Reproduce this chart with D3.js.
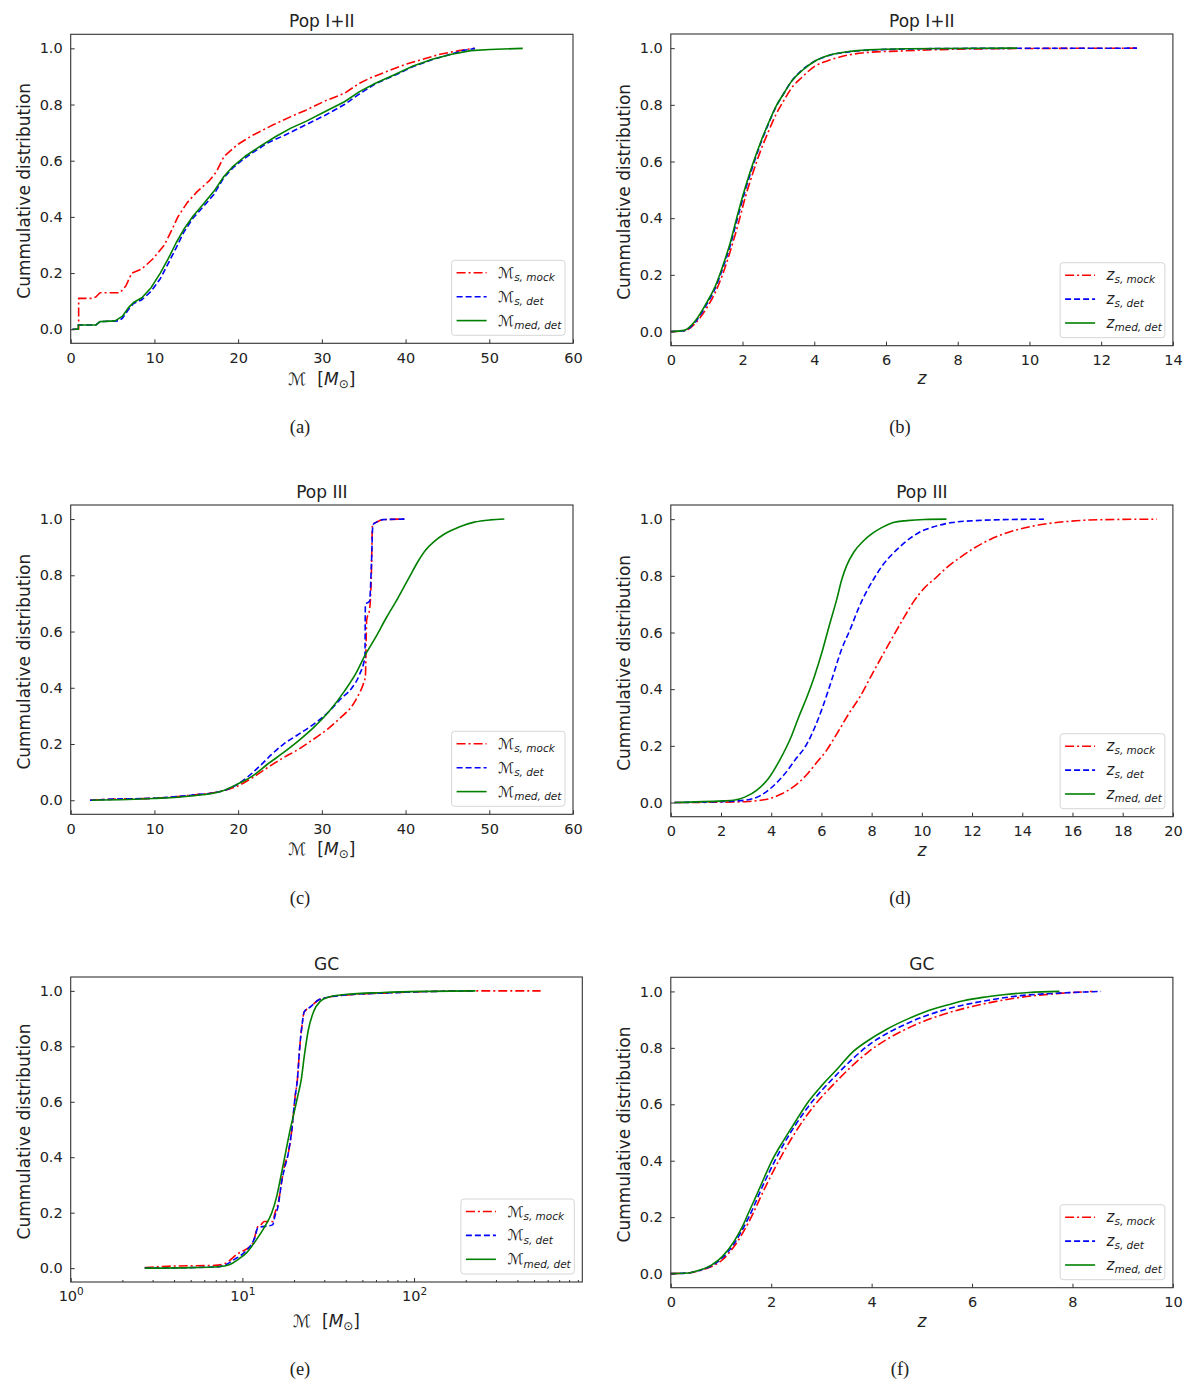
<!DOCTYPE html>
<html>
<head>
<meta charset="utf-8">
<script src="https://cdn.jsdelivr.net/npm/d3@7"></script>
<style>
body{margin:0;background:#fff;}
text{font-family:"DejaVu Sans",sans-serif;fill:#222;}
.cap{font-family:"Liberation Serif",serif;}
</style>
</head>
<body>
<svg id="fig" width="1200" height="1385"></svg>
<script>
// ---- data: [x, cumulative fraction] ----
// (a) Pop I+II, chirp mass
var aMock = [[0.45,0],[0.95,0],[0.95,0.11],[2.5,0.11],[3.0,0.115],[3.5,0.13],[5.9,0.13],[6.6,0.155],[7.3,0.2],[8.5,0.215],[9.8,0.25],[11.2,0.30],[12.1,0.355],[12.8,0.40],[13.9,0.45],[15.1,0.49],[16.5,0.527],[17.4,0.56],[18.3,0.615],[19.9,0.657],[21.7,0.69],[24,0.725],[26.3,0.757],[28.1,0.78],[30.4,0.813],[32.7,0.84],[34.5,0.876],[35.9,0.896],[37.7,0.917],[40,0.943],[41.8,0.959],[44.1,0.979],[46.4,0.992],[48.2,1.0]];
var aDet = [[0.2,0],[0.9,0],[0.9,0.015],[3.0,0.015],[3.5,0.027],[5.8,0.03],[6.2,0.04],[6.9,0.07],[7.5,0.092],[8.5,0.105],[9.6,0.135],[10.7,0.18],[11.7,0.237],[12.6,0.29],[13.5,0.345],[14.6,0.395],[15.8,0.435],[17.1,0.48],[18.3,0.54],[19.4,0.575],[20.3,0.598],[21.7,0.628],[23.5,0.663],[25.5,0.69],[28.1,0.728],[30.4,0.762],[32.7,0.80],[34.5,0.838],[36.4,0.874],[38.6,0.903],[40.9,0.935],[43.2,0.96],[45.5,0.98],[47,0.993],[48.3,1.0]];
var aMed = [[0.2,0],[0.9,0],[0.9,0.015],[3.0,0.015],[3.5,0.027],[5.3,0.03],[6.2,0.047],[6.9,0.077],[7.5,0.095],[8.5,0.112],[9.6,0.148],[10.7,0.2],[11.7,0.254],[12.6,0.308],[13.5,0.355],[14.6,0.402],[15.8,0.444],[17.1,0.491],[18.3,0.544],[19.4,0.58],[20.8,0.615],[22.6,0.651],[24.5,0.686],[26.3,0.716],[28.1,0.74],[30.4,0.775],[32.7,0.81],[34.5,0.846],[36.4,0.876],[38.6,0.905],[40.9,0.937],[43.2,0.961],[45.5,0.979],[47.8,0.992],[50.1,0.996],[54,1.0]];
// (b) Pop I+II, redshift
var bMock = [[0,0],[0.37,0.002],[0.69,0.03],[1.01,0.085],[1.23,0.135],[1.44,0.2],[1.65,0.28],[1.87,0.375],[2.08,0.475],[2.29,0.56],[2.51,0.64],[2.72,0.705],[2.93,0.765],[3.15,0.815],[3.36,0.858],[3.68,0.9],[4.0,0.935],[4.43,0.958],[4.96,0.976],[5.5,0.985],[6.4,0.99],[7.5,0.995],[9,0.998],[13.0,1.0]];
var bDet = [[0,0],[0.37,0.003],[0.69,0.035],[1.01,0.098],[1.23,0.15],[1.44,0.22],[1.65,0.30],[1.87,0.405],[2.08,0.50],[2.29,0.585],[2.51,0.665],[2.72,0.732],[2.93,0.792],[3.15,0.84],[3.36,0.882],[3.68,0.925],[4.0,0.953],[4.43,0.975],[4.96,0.987],[5.5,0.993],[6.56,0.997],[8,0.999],[13.0,1.0]];
var bMed = [[0,0],[0.37,0.004],[0.69,0.039],[1.01,0.104],[1.23,0.157],[1.44,0.228],[1.65,0.31],[1.87,0.416],[2.08,0.51],[2.29,0.593],[2.51,0.67],[2.72,0.735],[2.93,0.794],[3.15,0.84],[3.36,0.882],[3.68,0.923],[4.0,0.953],[4.43,0.976],[4.96,0.988],[5.5,0.994],[6.56,0.998],[9.66,1.0]];
// (c) Pop III, chirp mass
var cMock = [[2.3,0],[5.3,0.004],[9.8,0.007],[14.4,0.018],[18.1,0.033],[19.9,0.05],[21.7,0.08],[23.5,0.116],[25.4,0.151],[27.2,0.181],[29,0.217],[30.9,0.258],[32.2,0.293],[33.6,0.335],[34.3,0.37],[35.0,0.418],[35.2,0.44],[35.3,0.58],[35.35,0.64],[35.7,0.678],[35.9,0.785],[36.05,0.98],[36.6,0.99],[37.3,0.998],[40,1.0]];
var cDet = [[2.3,0],[5.3,0.004],[9.8,0.007],[14.4,0.018],[18.1,0.033],[19.5,0.05],[20.8,0.075],[22.6,0.122],[24,0.163],[25.4,0.199],[27.2,0.234],[29,0.27],[30.9,0.317],[32.2,0.359],[33.6,0.40],[34.5,0.447],[35.15,0.512],[35.2,0.696],[35.7,0.708],[35.9,0.82],[36.1,0.98],[36.6,0.99],[37.3,0.998],[40,1.0]];
var cMed = [[2.5,0],[9.8,0.006],[14.4,0.015],[18.1,0.033],[19.9,0.057],[21.7,0.086],[23.5,0.128],[25.4,0.169],[27.2,0.211],[29,0.258],[30.9,0.317],[32.7,0.388],[34.1,0.453],[35.2,0.518],[36.4,0.578],[37.7,0.649],[39.1,0.72],[40.5,0.796],[41.5,0.85],[42.4,0.89],[43.4,0.92],[44.6,0.946],[46.4,0.972],[48.2,0.989],[50.1,0.997],[51.8,1.0]];
// (d) Pop III, redshift
var dMock = [[0.15,0],[1.75,0.001],[2.97,0.003],[3.58,0.008],[3.95,0.014],[4.4,0.03],[4.88,0.055],[5.41,0.098],[5.8,0.14],[6.21,0.185],[6.63,0.245],[7.1,0.315],[7.54,0.374],[8.0,0.45],[8.46,0.524],[8.86,0.587],[9.3,0.655],[9.68,0.71],[10.1,0.757],[10.59,0.796],[11.0,0.83],[11.51,0.864],[12.12,0.9],[12.88,0.935],[13.64,0.959],[14.7,0.98],[15.8,0.992],[17,0.998],[19.36,1.0]];
var dDet = [[0.15,0],[2.5,0.005],[3.28,0.014],[3.89,0.044],[4.5,0.097],[4.95,0.15],[5.41,0.205],[5.72,0.262],[6.02,0.33],[6.41,0.433],[6.8,0.54],[7.14,0.61],[7.5,0.69],[7.8,0.745],[8.07,0.787],[8.46,0.84],[8.86,0.88],[9.22,0.91],[9.65,0.94],[10.0,0.958],[10.44,0.972],[11.2,0.988],[12.4,0.996],[13.6,0.999],[14.86,1.0]];
var dMed = [[0.15,0],[2.06,0.006],[2.5,0.008],[2.97,0.02],[3.43,0.044],[3.89,0.085],[4.34,0.15],[4.8,0.233],[5.1,0.303],[5.41,0.37],[5.72,0.445],[6.02,0.53],[6.33,0.63],[6.61,0.717],[6.81,0.787],[7.0,0.835],[7.3,0.885],[7.67,0.923],[8.0,0.948],[8.4,0.97],[8.86,0.988],[9.4,0.995],[10.1,0.999],[10.98,1.0]];
// (e) GC, chirp mass (log axis)
var eMock = [[2.7,0.002],[3.7,0.007],[6.9,0.01],[8.0,0.018],[9.2,0.048],[11.5,0.09],[12.3,0.15],[12.9,0.158],[13.4,0.168],[15.0,0.168],[15.5,0.2],[16.1,0.23],[17.0,0.318],[17.6,0.37],[18.5,0.414],[19.4,0.498],[20.3,0.62],[20.9,0.678],[21.6,0.8],[22.3,0.88],[22.9,0.924],[24.9,0.942],[27.6,0.966],[32.2,0.978],[43.9,0.987],[66.2,0.992],[111,0.997],[228,1.0],[546,1.0]];
var eDet = [[2.7,0],[6.9,0.004],[8.0,0.012],[8.9,0.03],[10.4,0.06],[11.8,0.11],[12.3,0.145],[15.0,0.156],[15.5,0.19],[16.1,0.22],[17.0,0.318],[17.6,0.36],[18.5,0.414],[19.4,0.498],[20.3,0.62],[20.9,0.678],[21.6,0.8],[22.3,0.88],[22.9,0.924],[24.9,0.942],[27.6,0.966],[32.2,0.978],[43.9,0.987],[66.2,0.992],[111,0.997],[228,1.0]];
var eMed = [[2.7,0],[5.06,0.002],[7.25,0.005],[8.46,0.013],[9.38,0.03],[10.6,0.056],[12.0,0.1],[13.5,0.15],[14.8,0.198],[15.8,0.255],[16.6,0.318],[18.0,0.428],[18.96,0.498],[20.0,0.56],[21.0,0.62],[22.0,0.678],[23.0,0.77],[24.2,0.858],[26.0,0.925],[28.4,0.962],[32,0.978],[39.6,0.987],[66.2,0.994],[111,0.998],[228,1.0]];
// (f) GC, redshift
var fMock = [[0,0],[0.34,0.002],[0.57,0.01],[0.8,0.024],[1.03,0.049],[1.26,0.096],[1.56,0.185],[1.87,0.302],[2.25,0.432],[2.71,0.561],[3.32,0.685],[3.93,0.785],[4.69,0.867],[5.45,0.92],[6.21,0.955],[6.97,0.979],[7.74,0.993],[8.4,1.0]];
var fDet = [[0,0],[0.34,0.002],[0.57,0.011],[0.8,0.027],[1.03,0.056],[1.26,0.106],[1.56,0.202],[1.87,0.326],[2.25,0.459],[2.71,0.585],[3.32,0.708],[3.93,0.808],[4.69,0.885],[5.45,0.935],[6.21,0.965],[6.97,0.985],[7.74,0.994],[8.57,1.0]];
var fMed = [[0,0],[0.34,0.002],[0.57,0.012],[0.8,0.029],[1.03,0.061],[1.26,0.114],[1.41,0.161],[1.56,0.22],[1.71,0.279],[1.87,0.344],[2.02,0.402],[2.25,0.473],[2.48,0.538],[2.71,0.602],[3.01,0.667],[3.32,0.726],[3.62,0.785],[3.93,0.826],[4.31,0.867],[4.69,0.9],[5.07,0.928],[5.45,0.949],[5.83,0.967],[6.21,0.979],[6.67,0.989],[7.13,0.996],[7.74,1.0]];

// ---- ticks and labels ----
var yTicks = [0, 0.2, 0.4, 0.6, 0.8, 1.0];
var massTicks = [0, 10, 20, 30, 40, 50, 60];
var zTicksB = [0, 2, 4, 6, 8, 10, 12, 14];
var zTicksD = [0, 2, 4, 6, 8, 10, 12, 14, 16, 18, 20];
var zTicksF = [0, 2, 4, 6, 8, 10];
var logTicks = [1, 10, 100];
var logMinor = [2,3,4,5,6,7,8,9,20,30,40,50,60,70,80,90,200,300,400,500,600,700,800,900];
var titles = ["Pop I+II", "Pop I+II", "Pop III", "Pop III", "GC", "GC"];
var captions = ["(a)", "(b)", "(c)", "(d)", "(e)", "(f)"];
var subs = ["s, mock", "s, det", "med, det"];
var yLabel = "Cummulative distribution";

var colors = ["#ff0000", "#0000ff", "#008000"];
var dashes = ["9,3,2,3", "6,3", null];

var panels = [
  {l:70.7, r:573, t:34.3, b:343.3, dom:[0,60], ticks:massTicks, kind:"M", xl:380, cy:427, cx:300, data:[aMock,aDet,aMed]},
  {l:670.8, r:1172.9, t:34, b:345.7, dom:[0,14], ticks:zTicksB, kind:"z", xl:380, cy:427, cx:900, data:[bMock,bDet,bMed]},
  {l:70.7, r:573, t:505, b:814.3, dom:[0,60], ticks:massTicks, kind:"M", xl:850, cy:898, cx:300, data:[cMock,cDet,cMed]},
  {l:670.8, r:1172.9, t:505, b:816.7, dom:[0,20], ticks:zTicksD, kind:"z", xl:851.7, cy:898, cx:900, data:[dMock,dDet,dMed]},
  {l:70.7, r:582.3, t:977, b:1282, dom:[1,955], log:true, ticks:logTicks, kind:"M", xl:1321.7, cy:1369, cx:300, data:[eMock,eDet,eMed]},
  {l:670.8, r:1172.9, t:977.3, b:1287.7, dom:[0,10], ticks:zTicksF, kind:"z", xl:1323, cy:1369, cx:900, data:[fMock,fDet,fMed]}
];

var svg = d3.select("#fig");

// symbol + subscript, like mathtext
var symbolText = function(sel, kind, sub, size, subSize){
  var t = sel.append("text").style("font-size", size + "px");
  if (kind == "M") {
    t.append("tspan").text("\u2133");
  } else {
    t.append("tspan").style("font-style", "italic").text("z");
  }
  t.append("tspan").style("font-style", "italic").style("font-size", subSize + "px")
    .attr("dy", size * 0.22).text(sub);
  return t;
};

var drawPanel = function(p, i){
  var g = svg.append("g");
  var x = p.log ? d3.scaleLog().domain(p.dom).range([p.l, p.r])
                : d3.scaleLinear().domain(p.dom).range([p.l, p.r]);
  var y = d3.scaleLinear().domain([-0.05, 1.05]).range([p.b, p.t]);

  // curves
  for (var k=0; k<3; k++){
    var pts = p.data[k];
    var strict = true;
    for (var j=1;j<pts.length;j++){ if (pts[j][0] <= pts[j-1][0]) strict = false; }
    var line = d3.line()
      .x(function(d){ return x(d[0]); })
      .y(function(d){ return y(d[1]); })
      .curve(strict ? d3.curveMonotoneX : d3.curveLinear);
    g.append("path").datum(pts)
      .attr("d", line)
      .attr("fill", "none")
      .attr("stroke", colors[k])
      .attr("stroke-width", 1.6)
      .attr("stroke-dasharray", dashes[k])
      .attr("stroke-linejoin", "round");
  }

  // axes, ticks pointing in
  var xa = d3.axisBottom(x).tickValues(p.ticks).tickSizeInner(-4).tickSizeOuter(0).tickPadding(9);
  if (!p.log) xa.tickFormat(d3.format("d"));
  else xa.tickFormat(function(){ return ""; });
  var gx = g.append("g").attr("transform", "translate(0," + p.b + ")").call(xa);
  gx.select(".domain").remove();
  gx.selectAll("line").attr("stroke", "#333");
  gx.selectAll("text").style("font-size", "14.5px").attr("fill", "#222").style("font-family", "DejaVu Sans");
  if (p.log) {
    gx.selectAll(".tick text").each(function(d){
      var t = d3.select(this);
      t.append("tspan").text("10");
      t.append("tspan").style("font-size", "10.5px").attr("dy", -6).text(Math.round(Math.log10(d)));
    });
    var gm = g.append("g").attr("transform", "translate(0," + p.b + ")")
      .call(d3.axisBottom(x).tickValues(logMinor).tickSizeInner(-2).tickSizeOuter(0).tickFormat(function(){ return ""; }));
    gm.select(".domain").remove();
    gm.selectAll("line").attr("stroke", "#333");
  }

  var ya = d3.axisLeft(y).tickValues(yTicks).tickSizeInner(-4).tickSizeOuter(0).tickPadding(8).tickFormat(d3.format(".1f"));
  var gy = g.append("g").attr("transform", "translate(" + p.l + ",0)").call(ya);
  gy.select(".domain").remove();
  gy.selectAll("line").attr("stroke", "#333");
  gy.selectAll("text").style("font-size", "14.5px").attr("fill", "#222").style("font-family", "DejaVu Sans");

  // frame
  g.append("rect").attr("x", p.l).attr("y", p.t).attr("width", p.r - p.l).attr("height", p.b - p.t)
    .attr("fill", "none").attr("stroke", "#333").attr("stroke-width", 1.1);

  // title
  g.append("text").attr("x", (p.l + p.r) / 2).attr("y", p.t - 7.5)
    .attr("text-anchor", "middle").style("font-size", "17px").text(titles[i]);

  // y label
  g.append("text")
    .attr("transform", "translate(" + (p.l - 47) + "," + ((p.t + p.b) / 2 + 2) + ") rotate(-90)")
    .attr("text-anchor", "middle").attr("dy", "0.36em")
    .style("font-size", "17px").text(yLabel);

  // x label
  var xl = g.append("text").attr("x", (p.l + p.r) / 2).attr("y", p.xl + 5)
    .attr("text-anchor", "middle").style("font-size", "17px").style("white-space", "pre");
  if (p.kind == "M") {
    xl.append("tspan").text("\u2133  [");
    xl.append("tspan").style("font-style", "italic").text("M");
    xl.append("tspan").style("font-size", "12px").attr("dy", 3).text("\u2299");
    xl.append("tspan").attr("dy", -3).text("]");
  } else {
    xl.attr("y", p.xl + 4).append("tspan").style("font-style", "italic").text("z");
  }

  // caption
  g.append("text").attr("class", "cap").attr("x", p.cx).attr("y", p.cy + 5.5)
    .attr("text-anchor", "middle").style("font-size", "18.5px").text(captions[i]);

  // legend, lower right
  var lw = p.kind == "M" ? 113.4 : 104.8, lh = 75;
  var lg = g.append("g").attr("transform", "translate(" + (p.r - 8 - lw) + "," + (p.b - 8 - lh) + ")");
  lg.append("rect").attr("width", lw).attr("height", lh).attr("rx", 3)
    .attr("fill", "#fff").attr("fill-opacity", 0.8).attr("stroke", "#d6d6d6").attr("stroke-width", 1);
  for (var k=0; k<3; k++){
    var ry = 12.5 + k * 23.9;
    lg.append("line").attr("x1", 5).attr("x2", 35).attr("y1", ry).attr("y2", ry)
      .attr("stroke", colors[k]).attr("stroke-width", 1.6).attr("stroke-dasharray", dashes[k]);
    symbolText(lg, p.kind, subs[k], 15, 10.5).attr("x", 46.5).attr("y", ry + 5);
  }
};

panels.forEach(drawPanel);
</script>
</body>
</html>
